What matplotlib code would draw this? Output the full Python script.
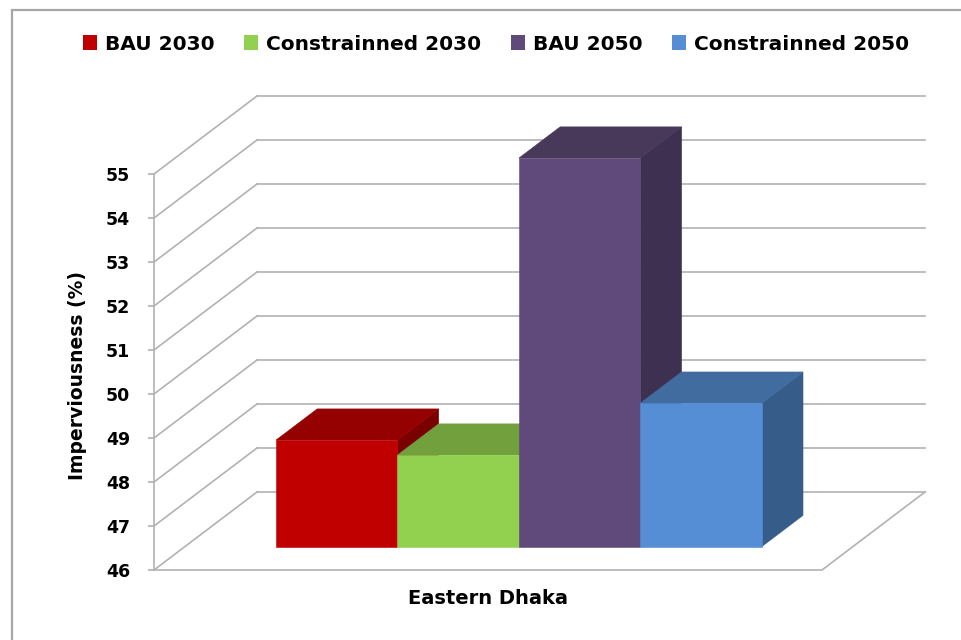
import matplotlib
matplotlib.use("Agg")
import matplotlib.pyplot as plt
from matplotlib.patches import Polygon, Patch, Rectangle

# ---------------------------------------------
# Data
# ---------------------------------------------
region = "Eastern Dhaka"
scenarios = ["BAU 2030", "Constrainned 2030", "BAU 2050", "Constrainned 2050"]
imperviousness = [48.42, 48.08, 54.83, 49.26]
y_ticks = [46, 47, 48, 49, 50, 51, 52, 53, 54, 55]

front_colors = ["#C00000", "#92D050", "#5F4A7B", "#558ED5"]
top_colors = ["#950000", "#71A03C", "#483859", "#406CA0"]
side_colors = ["#7A0000", "#5E8A30", "#3E3050", "#365C89"]

# ---------------------------------------------
# Pseudo-3D geometry (category x in [0, 1], value on y)
# ---------------------------------------------
DX, DV = 103 / 668, 78 / 44      # shift of the back wall
D_FRONT, D_BACK = 0.30, 0.70     # depth slab occupied by the bars
GAP = 1.5                        # gap width in bar widths
BASE = y_ticks[0]
GRID = "#B2B2B2"


def proj(x, v, d):
    return (x + d * DX, v + d * DV)


fig = plt.figure(figsize=(9.61, 6.40), dpi=100)
ax = fig.add_axes([0, 0, 1, 1])
ax.set_xlim(-154 / 668, 807 / 668)
ax.set_ylim(BASE - 70 / 44, BASE + 570 / 44)

# walls and floor
for v in y_ticks:
    ax.plot(*zip(proj(0, v, 0), proj(0, v, 1)), color=GRID, lw=1.2, zorder=1)
    ax.plot(*zip(proj(0, v, 1), proj(1, v, 1)), color=GRID, lw=1.2, zorder=1)
ax.plot(*zip(proj(0, BASE, 0), proj(1, BASE, 0), proj(1, BASE, 1)),
        color=GRID, lw=1.2, zorder=1)

# bars
n = len(scenarios)
bar_w = 1 / (n + GAP)
start = 0.5 - n * bar_w / 2
for i, val in enumerate(imperviousness):
    x0 = start + i * bar_w
    x1 = x0 + bar_w
    front = [proj(x0, BASE, D_FRONT), proj(x1, BASE, D_FRONT),
             proj(x1, val, D_FRONT), proj(x0, val, D_FRONT)]
    top = [proj(x0, val, D_FRONT), proj(x1, val, D_FRONT),
           proj(x1, val, D_BACK), proj(x0, val, D_BACK)]
    side = [proj(x1, BASE, D_FRONT), proj(x1, BASE, D_BACK),
            proj(x1, val, D_BACK), proj(x1, val, D_FRONT)]
    z = 3 + i
    for face, col in [(side, side_colors[i]), (top, top_colors[i]), (front, front_colors[i])]:
        ax.add_patch(Polygon(face, closed=True, fc=col, ec=col, lw=0.4, zorder=z))

# value axis on the front-left edge
for s in ["top", "right", "bottom"]:
    ax.spines[s].set_visible(False)
ax.spines["left"].set_position(("data", 0))
ax.spines["left"].set_bounds(y_ticks[0], y_ticks[-1])
ax.spines["left"].set_color(GRID)
ax.spines["left"].set_linewidth(1.2)
ax.xaxis.set_visible(False)
ax.set_yticks(y_ticks)
ax.set_yticklabels([str(t) for t in y_ticks], fontweight="bold")
ax.tick_params(axis="y", direction="out", length=4.3, width=1.2, color=GRID,
               pad=13, labelsize=12.5, labelcolor="black")
ax.set_facecolor("white")

ax.text(-0.114, BASE + (570 - 375) / 44, "Imperviousness (%)", rotation=90,
        ha="center", va="center", fontsize=13.5, fontweight="bold", color="black")
ax.text(0.5, BASE - 28 / 44, region, ha="center", va="center",
        fontsize=14, fontweight="bold", color="black")

# legend
handles = [Patch(facecolor=c, edgecolor="none", label=s)
           for c, s in zip(front_colors, scenarios)]
fig.legend(handles=handles, loc="center", bbox_to_anchor=(496 / 961, 1 - 44 / 640),
           ncol=4, frameon=False, prop={"weight": "bold", "size": 14.5},
           handlelength=0.7, handleheight=0.7, handletextpad=0.4,
           columnspacing=1.45, borderaxespad=0)

# chart border
fig.patches.append(Rectangle((12 / 961, -0.05), 1.2, 1.05 - 10 / 640,
                             transform=fig.transFigure, fill=False,
                             ec="#A6A6A6", lw=1.6, zorder=10))

fig.savefig("out.png", dpi=100, facecolor="white")
